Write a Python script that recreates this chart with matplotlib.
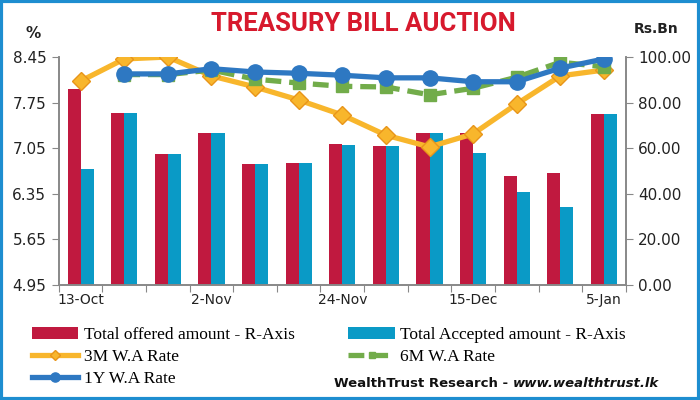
import numpy as np
import matplotlib
matplotlib.use('Agg')
import matplotlib.pyplot as plt
from matplotlib.patches import Rectangle

dates = ['13-Oct', '20-Oct', '27-Oct', '2-Nov', '10-Nov', '17-Nov', '24-Nov',
         '1-Dec', '8-Dec', '15-Dec', '22-Dec', '29-Dec', '5-Jan']
offered = [86.0, 75.4, 57.5, 66.7, 53.1, 53.5, 61.8, 61.0, 66.7, 66.7, 47.8, 49.1, 75.0]
accepted = [50.9, 75.4, 57.5, 66.7, 53.1, 53.5, 61.4, 61.0, 66.7, 57.9, 40.8, 34.2, 75.0]
rate3m = [8.08, 8.42, 8.45, 8.16, 7.99, 7.79, 7.56, 7.25, 7.07, 7.27, 7.73, 8.16, 8.25]
rate6m = [np.nan, 8.18, 8.18, 8.25, 8.11, 8.05, 8.00, 7.99, 7.87, 7.97, 8.14, 8.37, 8.30]
rate1y = [np.nan, 8.19, 8.19, 8.27, 8.22, 8.20, 8.17, 8.13, 8.13, 8.07, 8.07, 8.28, 8.42]

c_off = '#C0193F'
c_acc = '#0A9AC6'
c_3m = '#F8B62C'
c_6m = '#72AC4A'
c_1y = '#2E78C2'
grey = '#888888'

fig = plt.figure(figsize=(7, 4), dpi=100)
ax = fig.add_axes([0.084, 0.2875, 0.81, 0.57])
ax2 = ax.twinx()

x = np.arange(len(dates))
w = 0.3
b1 = ax.bar(x - w/2, offered, w, color=c_off, label='Total offered amount - R-Axis')
b2 = ax.bar(x + w/2, accepted, w, color=c_acc, label='Total Accepted amount - R-Axis')
ax.set_ylim(0, 100)
ax.set_xlim(-0.5, len(dates) - 0.5)
ax.yaxis.tick_right()
ax.set_yticks(np.arange(0, 101, 20))
ax.set_yticklabels(['%.2f' % v for v in np.arange(0, 101, 20)])

l3, = ax2.plot(x, rate3m, color=c_3m, lw=3.8, marker='D', ms=9, mfc=c_3m,
               mec='#E8951A', mew=1, label='3M W.A Rate', zorder=3)
l6, = ax2.plot(x, rate6m, color=c_6m, lw=3.8, ls=(0, (3, 1.5)), marker='s', ms=8,
               label='6M W.A Rate', zorder=4)
l1, = ax2.plot(x, rate1y, color=c_1y, lw=3.8, marker='o', ms=11,
               label='1Y W.A Rate', zorder=5)
ax2.set_ylim(4.95, 8.45)
ax2.yaxis.tick_left()
ticks = [4.95, 5.65, 6.35, 7.05, 7.75, 8.45]
ax2.set_yticks(ticks)
ax2.set_yticklabels(['%.2f' % t for t in ticks])

# x ticks at group boundaries, labels every third group
ax.set_xticks(np.arange(-0.5, len(dates), 1.0))
ax.set_xticklabels([])
ax.set_xticks(x[::3], minor=True)
ax.set_xticklabels([dates[i] for i in x[::3]], minor=True)
ax.tick_params(axis='x', which='minor', length=0, pad=6, labelsize=10, colors='#222222')
ax.tick_params(axis='x', which='major', length=5, color=grey)

for a in (ax, ax2):
    a.spines['top'].set_visible(False)
    for s in ('left', 'right', 'bottom'):
        a.spines[s].set_color(grey)
        a.spines[s].set_linewidth(1.2)
ax.tick_params(axis='y', labelsize=11, length=5, color=grey, labelcolor='#222222', pad=4)
ax2.tick_params(axis='y', labelsize=11, length=5, color=grey, labelcolor='#222222', pad=4)

fig.text(0.519, 0.94, 'TREASURY BILL AUCTION', color='#D7192D', fontsize=18.5,
         fontweight='bold', family=['Roboto', 'DejaVu Sans'],
         ha='center', va='center')
fig.text(0.047, 0.915, '%', fontsize=11, fontweight='bold', ha='center', va='center', color='#222222')
fig.text(0.937, 0.928, 'Rs.Bn', fontsize=10, fontweight='bold', ha='center', va='center', color='#222222')

fig.legend(handles=[b1, l3, l1, b2, l6], ncol=2, loc='upper left',
           bbox_to_anchor=(0.045, 0.183), frameon=False,
           prop={'family': 'Liberation Serif', 'size': 12.5},
           handlelength=2.7, handletextpad=0.3, columnspacing=3.1,
           labelspacing=0.35, borderaxespad=0, markerscale=0.6, borderpad=0)

fig.text(0.733, 0.042, 'WealthTrust Research - ', fontsize=9.5, fontweight='bold',
         ha='right', va='center', color='#111111')
fig.text(0.733, 0.042, 'www.wealthtrust.lk', fontsize=9.5, fontweight='bold',
         style='italic', ha='left', va='center', color='#111111')

fig.patches.append(Rectangle((0.002, 0.003), 0.996, 0.994, transform=fig.transFigure,
                             fill=False, edgecolor='#1E8ED0', lw=3))

fig.savefig('out.png', dpi=100)
